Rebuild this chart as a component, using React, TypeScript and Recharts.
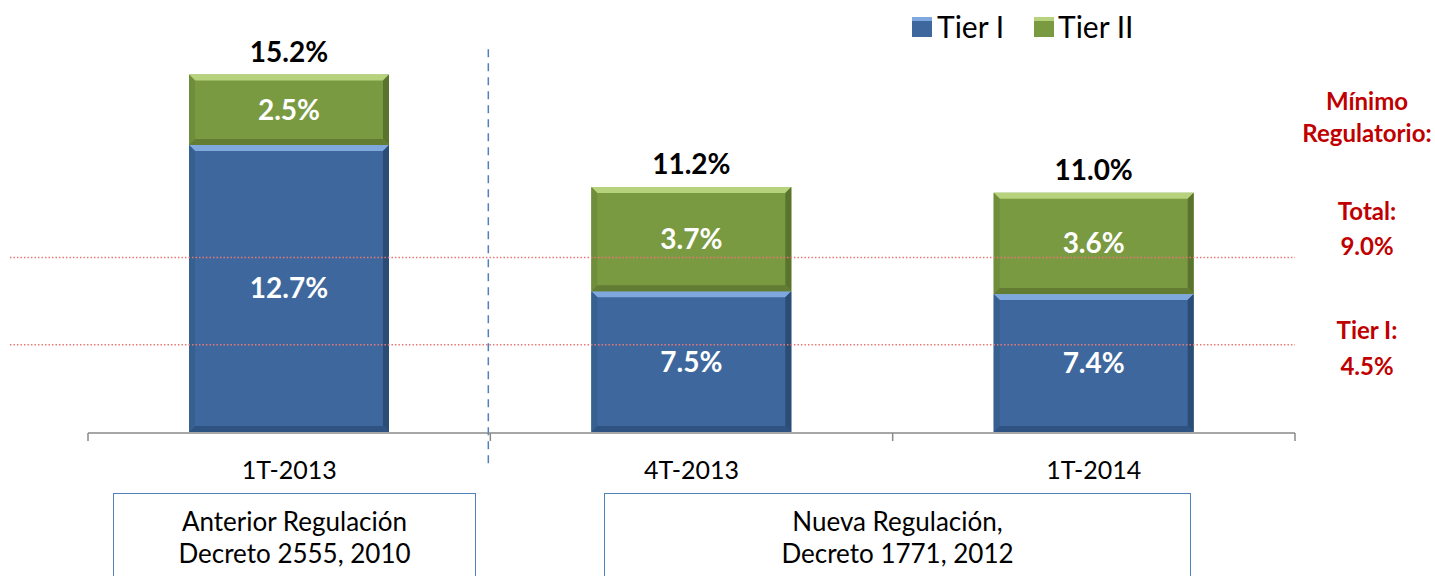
import { BarChart, Bar, XAxis, YAxis, ReferenceLine, LabelList } from 'recharts';

const categories = ['1T-2013', '4T-2013', '1T-2014'];
const slotCenters = [0.5, 1.5, 2.5];
const tierI = [12.7, 7.5, 7.4];
const tierII = [2.5, 3.7, 3.6];
const totals = [15.2, 11.2, 11.0];
const minTotal = 9.0;
const minTierI = 4.5;
const edgeTicks = [0, 1, 2, 3];

const data = categories.map((name, i) => ({
  name,
  pos: slotCenters[i],
  tier1: tierI[i],
  tier2: tierII[i],
  total: totals[i],
}));

const pct = (v: any) => `${Number(v).toFixed(1)}%`;

const BLUE = { main: '#3E689D', top: '#7FA8DE', left: '#35608F', right: '#2B4C74', bottom: '#2E5281' };
const GREEN = { main: '#7A9A42', top: '#B7D27C', left: '#6F8D3A', right: '#5A742D', bottom: '#627D33' };

// bevelled bar like the excel "3d" look
function bevelShape(c: typeof BLUE) {
  return (props: any) => {
    const { x, y, width: w, height: h } = props;
    const b = 6;
    return (
      <g>
        <rect x={x} y={y} width={w} height={h} fill={c.main} />
        <polygon points={`${x},${y} ${x + w},${y} ${x + w - b},${y + b} ${x + b},${y + b}`} fill={c.top} />
        <polygon points={`${x},${y} ${x + b},${y + b} ${x + b},${y + h - b} ${x},${y + h}`} fill={c.left} />
        <polygon points={`${x + w},${y} ${x + w - b},${y + b} ${x + w - b},${y + h - b} ${x + w},${y + h}`} fill={c.right} />
        <polygon points={`${x},${y + h} ${x + b},${y + h - b} ${x + w - b},${y + h - b} ${x + w},${y + h}`} fill={c.bottom} />
      </g>
    );
  };
}

const sideText = [
  { t: 'Mínimo', y: 101 },
  { t: 'Regulatorio:', y: 133 },
  { t: 'Total:', y: 211 },
  { t: pct(minTotal), y: 246 },
  { t: 'Tier I:', y: 330 },
  { t: pct(minTierI), y: 366 },
];

const boxStyle: React.CSSProperties = {
  position: 'absolute',
  top: 493,
  height: 110,
  border: '1.5px solid #4F81BD',
  boxSizing: 'border-box',
  textAlign: 'center',
  fontSize: 26,
  lineHeight: '32px',
  paddingTop: 11,
  color: '#000',
};

export default function App() {
  return (
    <div style={{ position: 'absolute', left: 0, top: 0, width: 1435, height: 576, overflow: 'hidden', background: '#fff', fontFamily: 'Lato, sans-serif' }}>
      <BarChart width={1435} height={576} data={data} margin={{ top: 52, right: 140, bottom: 142, left: 88 }} barSize={200}>
        <XAxis
          xAxisId="cat"
          dataKey="name"
          height={1}
          axisLine={false}
          tickLine={false}
          tickSize={6}
          tickMargin={23}
          tick={{ fontSize: 25, fill: '#000', fontFamily: 'Lato' }}
        />
        <XAxis
          xAxisId="edges"
          dataKey="pos"
          type="number"
          domain={[0, 3]}
          ticks={edgeTicks}
          allowDataOverflow
          interval={0}
          height={1}
          tick={() => <g />}
          tickSize={8}
          axisLine={{ stroke: '#8A8A8A', strokeWidth: 1.5 }}
          tickLine={{ stroke: '#8A8A8A', strokeWidth: 1.5 }}
        />
        <YAxis yAxisId="main" domain={[2.5, 16]} allowDataOverflow hide />
        <YAxis yAxisId="min" domain={[0, 19.6]} allowDataOverflow hide />
        <Bar dataKey="tier1" name="Tier I" stackId="a" xAxisId="cat" yAxisId="main" shape={bevelShape(BLUE)} isAnimationActive={false}>
          <LabelList dataKey="tier1" position="center" formatter={pct} fill="#fff" fontSize={28} fontWeight="bold" fontFamily="Lato" />
        </Bar>
        <Bar dataKey="tier2" name="Tier II" stackId="a" xAxisId="cat" yAxisId="main" shape={bevelShape(GREEN)} isAnimationActive={false}>
          <LabelList dataKey="tier2" position="center" formatter={pct} fill="#fff" fontSize={28} fontWeight="bold" fontFamily="Lato" />
          <LabelList dataKey="total" position="top" offset={13} formatter={pct} fill="#000" fontSize={28} fontWeight="bold" fontFamily="Lato" />
        </Bar>
        <ReferenceLine
          xAxisId="edges"
          yAxisId="min"
          segment={[{ x: -0.194, y: minTotal }, { x: 3, y: minTotal }]}
          stroke="#E87878"
          strokeWidth={1.3}
          strokeDasharray="1.5 2"
          ifOverflow="visible"
        />
        <ReferenceLine
          xAxisId="edges"
          yAxisId="min"
          segment={[{ x: -0.194, y: minTierI }, { x: 3, y: minTierI }]}
          stroke="#E87878"
          strokeWidth={1.3}
          strokeDasharray="1.5 2"
          ifOverflow="visible"
        />
        <ReferenceLine
          xAxisId="edges"
          yAxisId="main"
          segment={[{ x: 0.995, y: 16.1 }, { x: 0.995, y: 1.35 }]}
          stroke="#4F81BD"
          strokeWidth={1.5}
          strokeDasharray="8 6"
          ifOverflow="visible"
        />
      </BarChart>

      {/* legend */}
      <div style={{ position: 'absolute', left: 912, top: 17, width: 20, height: 20, background: BLUE.main, boxShadow: `inset 0 4px 0 ${BLUE.top}` }} />
      <div style={{ position: 'absolute', left: 937, top: 8, fontSize: 30, lineHeight: '36px', color: '#000' }}>Tier I</div>
      <div style={{ position: 'absolute', left: 1034, top: 17, width: 20, height: 20, background: GREEN.main, boxShadow: `inset 0 4px 0 ${GREEN.top}` }} />
      <div style={{ position: 'absolute', left: 1058, top: 8, fontSize: 30, lineHeight: '36px', color: '#000' }}>Tier II</div>

      {sideText.map((s) => (
        <div key={s.t} style={{ position: 'absolute', left: 1297, width: 140, top: s.y - 14, textAlign: 'center', fontSize: 24, lineHeight: '28px', fontWeight: 'bold', color: '#C00000' }}>
          {s.t}
        </div>
      ))}

      <div style={{ ...boxStyle, left: 113, width: 363 }}>
        Anterior Regulación
        <br />
        Decreto 2555, 2010
      </div>
      <div style={{ ...boxStyle, left: 604, width: 587 }}>
        Nueva Regulación,
        <br />
        Decreto 1771, 2012
      </div>
    </div>
  );
}
